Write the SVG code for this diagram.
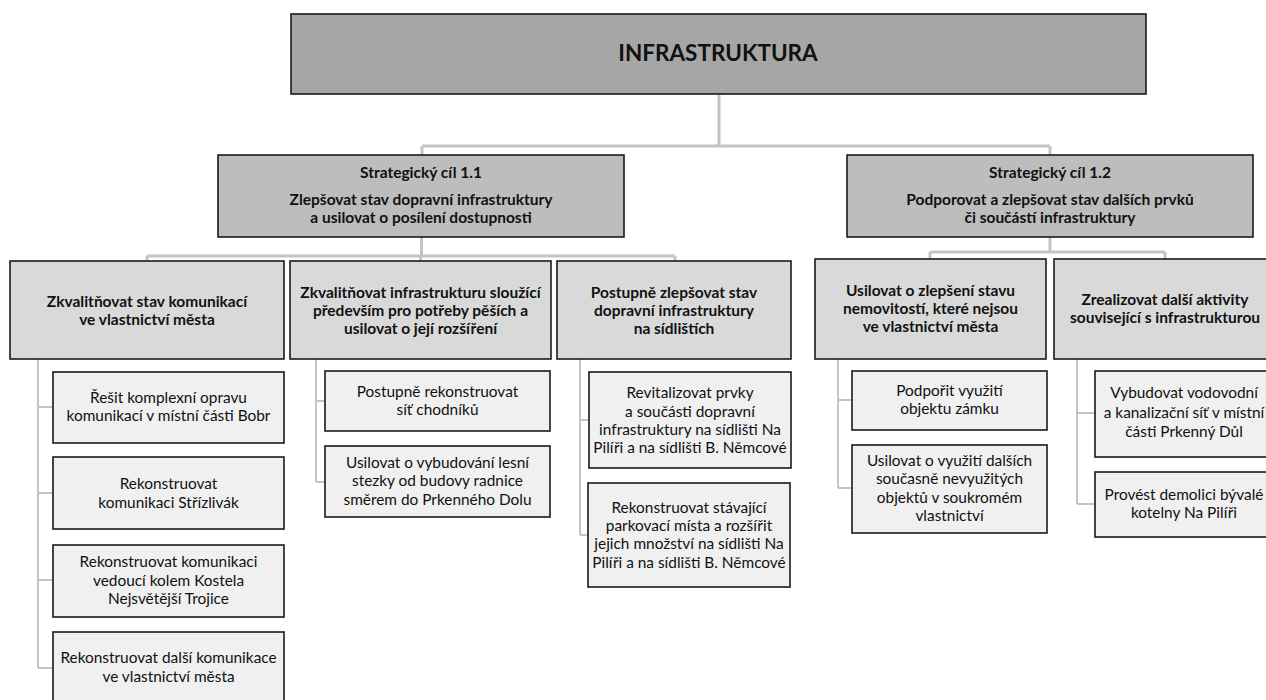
<svg xmlns="http://www.w3.org/2000/svg" width="1266" height="700" viewBox="0 0 1266 700">
<style>
text{font-family:Lato,"Liberation Sans",Arial,sans-serif;fill:#111;text-anchor:middle}
.b{font-weight:bold;font-size:15.5px}
.t{font-weight:bold;font-size:22.5px}
.l{font-size:15.4px}
.box{stroke:#1a1a1a;stroke-width:1.6}
.top{fill:#a6a6a6}
.s{fill:#bdbdbd}
.m{fill:#d9d9d9}
.f{fill:#f0f0f0}
.c{fill:none;stroke:#c4c4c4;stroke-width:3}
.c2{fill:none;stroke:#c4c4c4;stroke-width:2}
</style>
<rect width="1266" height="700" fill="#fff"/>
<g id="connectors">
<path class="c" d="M719 94V146M422 146H1050M422 146V155M1050 146V155"/>
<path class="c" d="M421.5 237V256M147 256H675M147 256V261M420.5 256V261M675 256V261"/>
<path class="c" d="M1050 237V252M930 252H1165M930 252V259M1165 252V259"/>
<path class="c2" d="M38 359V668M38 407H53M38 493H53M38 580H53M38 668H53"/>
<path class="c2" d="M316 359V482M316 401H325M316 482H325"/>
<path class="c2" d="M580 359V535M580 420H589M580 535H589"/>
<path class="c2" d="M838 359V488M838 400H852M838 488H852"/>
<path class="c2" d="M1077 359V504M1077 413H1095M1077 504H1095"/>
</g>
<g id="n-root"><rect class="box top" x="291" y="14" width="855" height="80"/><text class="t" x="718" y="61">INFRASTRUKTURA</text></g>
<g id="n-s11"><rect class="box s" x="218" y="155" width="406" height="82"/>
<text class="b" x="421" y="178">Strategický cíl 1.1</text>
<text class="b" x="421" y="205">Zlepšovat stav dopravní infrastruktury</text>
<text class="b" x="421" y="223">a usilovat o posílení dostupnosti</text></g>
<g id="n-s12"><rect class="box s" x="847" y="155" width="406" height="82"/>
<text class="b" x="1050" y="178">Strategický cíl 1.2</text>
<text class="b" x="1050" y="205">Podporovat a zlepšovat stav dalších prvků</text>
<text class="b" x="1050" y="223">či součástí infrastruktury</text></g>
<g id="n-a"><rect class="box m" x="10" y="261" width="274" height="98"/>
<text class="b" x="147" y="307">Zkvalitňovat stav komunikací</text>
<text class="b" x="147" y="325">ve vlastnictví města</text></g>
<g id="n-b"><rect class="box m" x="290" y="261" width="261" height="98"/>
<text class="b" x="420.5" y="298">Zkvalitňovat infrastrukturu sloužící</text>
<text class="b" x="420.5" y="316">především pro potřeby pěších a</text>
<text class="b" x="420.5" y="334">usilovat o její rozšíření</text></g>
<g id="n-c"><rect class="box m" x="557" y="261" width="234" height="98"/>
<text class="b" x="674" y="298">Postupně zlepšovat stav</text>
<text class="b" x="674" y="316">dopravní infrastruktury</text>
<text class="b" x="674" y="334">na sídlištích</text></g>
<g id="n-d"><rect class="box m" x="815" y="259" width="231" height="100"/>
<text class="b" x="930.5" y="296">Usilovat o zlepšení stavu</text>
<text class="b" x="930.5" y="314">nemovitostí, které nejsou</text>
<text class="b" x="930.5" y="332">ve vlastnictví města</text></g>
<g id="n-e"><rect class="box m" x="1054" y="259" width="222" height="100"/>
<text class="b" x="1165" y="305">Zrealizovat další aktivity</text>
<text class="b" x="1165" y="323">související s infrastrukturou</text></g>
<g id="n-a1"><rect class="box f" x="53" y="372" width="231" height="71"/>
<text class="l" x="168.5" y="403">Řešit komplexní opravu</text>
<text class="l" x="168.5" y="421">komunikací v místní části Bobr</text></g>
<g id="n-a2"><rect class="box f" x="53" y="457" width="231" height="72"/>
<text class="l" x="168.5" y="489">Rekonstruovat</text>
<text class="l" x="168.5" y="508">komunikaci Střízlivák</text></g>
<g id="n-a3"><rect class="box f" x="53" y="545" width="231" height="72"/>
<text class="l" x="168.5" y="567">Rekonstruovat komunikaci</text>
<text class="l" x="168.5" y="586">vedoucí kolem Kostela</text>
<text class="l" x="168.5" y="604">Nejsvětější Trojice</text></g>
<g id="n-a4"><rect class="box f" x="53" y="632" width="231" height="72"/>
<text class="l" x="168.5" y="663">Rekonstruovat další komunikace</text>
<text class="l" x="168.5" y="682">ve vlastnictví města</text></g>
<g id="n-b1"><rect class="box f" x="325" y="371" width="225" height="60"/>
<text class="l" x="437.5" y="397">Postupně rekonstruovat</text>
<text class="l" x="437.5" y="415">síť chodníků</text></g>
<g id="n-b2"><rect class="box f" x="325" y="446" width="225" height="71"/>
<text class="l" x="437.5" y="468">Usilovat o vybudování lesní</text>
<text class="l" x="437.5" y="486">stezky od budovy radnice</text>
<text class="l" x="437.5" y="505">směrem do Prkenného Dolu</text></g>
<g id="n-c1"><rect class="box f" x="589" y="372" width="202" height="96"/>
<text class="l" x="690" y="398">Revitalizovat prvky</text>
<text class="l" x="690" y="417">a součásti dopravní</text>
<text class="l" x="690" y="435">infrastruktury na sídlišti Na</text>
<text class="l" x="690" y="453">Pilíři a na sídlišti B. Němcové</text></g>
<g id="n-c2"><rect class="box f" x="588" y="483" width="202" height="104"/>
<text class="l" x="689" y="513">Rekonstruovat stávající</text>
<text class="l" x="689" y="531">parkovací místa a rozšířit</text>
<text class="l" x="689" y="549">jejich množství na sídlišti Na</text>
<text class="l" x="689" y="568">Pilíři a na sídlišti B. Němcové</text></g>
<g id="n-d1"><rect class="box f" x="852" y="371" width="195" height="59"/>
<text class="l" x="949.5" y="396">Podpořit využití</text>
<text class="l" x="949.5" y="414">objektu zámku</text></g>
<g id="n-d2"><rect class="box f" x="852" y="445" width="195" height="88"/>
<text class="l" x="949.5" y="466">Usilovat o využití dalších</text>
<text class="l" x="949.5" y="484">současně nevyužitých</text>
<text class="l" x="949.5" y="503">objektů v soukromém</text>
<text class="l" x="949.5" y="521">vlastnictví</text></g>
<g id="n-e1"><rect class="box f" x="1095" y="371" width="178" height="86"/>
<text class="l" x="1184" y="398">Vybudovat vodovodní</text>
<text class="l" x="1184" y="418">a kanalizační síť v místní</text>
<text class="l" x="1184" y="437">části Prkenný Důl</text></g>
<g id="n-e2"><rect class="box f" x="1095" y="472" width="178" height="65"/>
<text class="l" x="1184" y="500">Provést demolici bývalé</text>
<text class="l" x="1184" y="518">kotelny Na Pilíři</text></g>
</svg>
